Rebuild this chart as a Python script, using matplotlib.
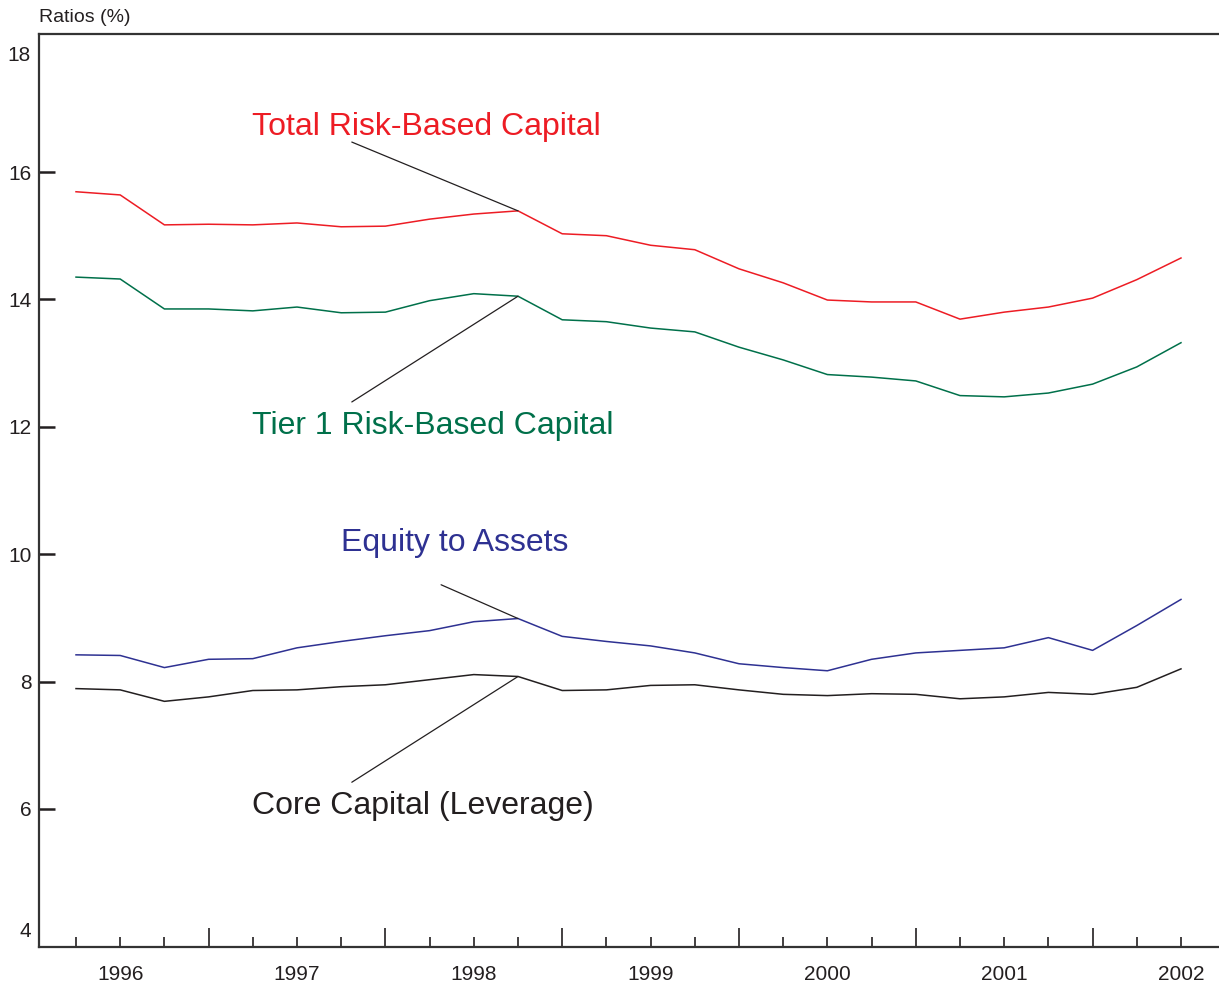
import matplotlib
matplotlib.use("Agg")
import matplotlib.pyplot as plt

plt.rcParams['font.family'] = ['Liberation Sans', 'DejaVu Sans']

# quarterly capital ratios (%), 26 quarters
total_rbc = [15.69, 15.64, 15.17, 15.18, 15.17, 15.20, 15.14, 15.15, 15.26, 15.34,
             15.39, 15.03, 15.00, 14.85, 14.78, 14.48, 14.26, 13.99, 13.96, 13.96,
             13.69, 13.80, 13.88, 14.02, 14.31, 14.65]
tier1_rbc = [14.35, 14.32, 13.85, 13.85, 13.82, 13.88, 13.79, 13.80, 13.98, 14.09,
             14.05, 13.68, 13.65, 13.55, 13.49, 13.25, 13.05, 12.82, 12.78, 12.72,
             12.49, 12.47, 12.53, 12.67, 12.94, 13.32]
equity_assets = [8.42, 8.41, 8.22, 8.35, 8.36, 8.53, 8.63, 8.72, 8.80, 8.94,
                 8.99, 8.71, 8.63, 8.56, 8.45, 8.28, 8.22, 8.17, 8.35, 8.45,
                 8.49, 8.53, 8.69, 8.49, 8.88, 9.29]
core_capital = [7.89, 7.87, 7.69, 7.76, 7.86, 7.87, 7.92, 7.95, 8.03, 8.11,
                8.08, 7.86, 7.87, 7.94, 7.95, 7.87, 7.80, 7.78, 7.81, 7.80,
                7.73, 7.76, 7.83, 7.80, 7.91, 8.20]

year_labels = ['1996', '1997', '1998', '1999', '2000', '2001', '2002']

RED = '#ED1C24'
GREEN = '#00704A'
BLUE = '#2E3192'
BLACK = '#231F20'

x = list(range(len(total_rbc)))

fig = plt.figure(figsize=(12.19, 9.83), dpi=100)
ax = fig.add_axes([0.0316, 0.0366, 0.9684, 0.9293])

ax.plot(x, total_rbc, color=RED, lw=1.1)
ax.plot(x, tier1_rbc, color=GREEN, lw=1.1)
ax.plot(x, equity_assets, color=BLUE, lw=1.1)
ax.plot(x, core_capital, color=BLACK, lw=1.1)

ax.set_xlim(-0.848, 25.86)
ax.set_ylim(3.833, 18.174)

# spines
ax.spines['right'].set_visible(False)
for s in ['left', 'top', 'bottom']:
    ax.spines[s].set_linewidth(1.6)
    ax.spines[s].set_color('#333333')

# y axis
tick_fs = 15
ax.set_yticks([6, 8, 10, 12, 14, 16])
ax.set_yticklabels(['6', '8', '10', '12', '14', '16'])
ax.tick_params(axis='y', direction='in', length=11.5, width=1.8, colors=BLACK,
               labelsize=tick_fs, pad=5)
ax.text(-0.0066, 17.83, '18', transform=ax.get_yaxis_transform(), ha='right',
        va='center', fontsize=tick_fs, color=BLACK)
ax.text(-0.0066, 4.07, '4', transform=ax.get_yaxis_transform(), ha='right',
        va='center', fontsize=tick_fs, color=BLACK)
ax.text(0, 1.017, 'Ratios (%)', transform=ax.transAxes, ha='left',
        va='center', fontsize=14, color=BLACK)

# x axis: short ticks every quarter, long ticks mid-way between year labels
short_ticks = [i for i in x if i % 4 != 3]
long_ticks = [i for i in x if i % 4 == 3]
ax.set_xticks(short_ticks)
ax.set_xticklabels(['' for _ in short_ticks])
ax.set_xticks(long_ticks, minor=True)
ax.tick_params(axis='x', which='major', direction='in', length=7.5, width=1.2,
               colors=BLACK)
ax.tick_params(axis='x', which='minor', direction='in', length=13.5, width=1.2,
               colors=BLACK)
for i, lab in zip(range(1, len(x), 4), year_labels):
    ax.text(i, -0.02, lab, transform=ax.get_xaxis_transform(), ha='center',
            va='top', fontsize=tick_fs, color=BLACK)

# series labels with leader lines to the 10th quarter
lbl_size = 23
ax.text(3.98, 16.71, 'Total Risk-Based Capital', color=RED, fontsize=lbl_size,
        ha='left', va='center')
ax.text(3.98, 12.02, 'Tier 1 Risk-Based Capital', color=GREEN, fontsize=lbl_size,
        ha='left', va='center')
ax.text(6.0, 10.18, 'Equity to Assets', color=BLUE, fontsize=lbl_size,
        ha='left', va='center')
ax.text(3.98, 6.05, 'Core Capital (Leverage)', color=BLACK, fontsize=lbl_size,
        ha='left', va='center')

k = 10
leaders = [((6.24, 16.47), total_rbc[k]),
           ((6.24, 12.39), tier1_rbc[k]),
           ((8.26, 9.52), equity_assets[k]),
           ((6.24, 6.42), core_capital[k])]
for start, yv in leaders:
    ax.annotate('', xy=(k, yv), xytext=start,
                arrowprops=dict(arrowstyle='-', lw=0.9, color=BLACK,
                                shrinkA=0, shrinkB=0))

fig.savefig('out.png', dpi=100)
